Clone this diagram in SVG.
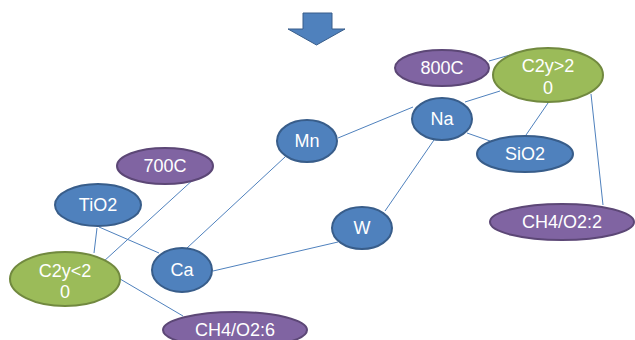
<svg xmlns="http://www.w3.org/2000/svg" width="635" height="340" viewBox="0 0 635 340">
<style>
.b{fill:#4F81BD;stroke:#385D8A;stroke-width:2}
.p{fill:#8064A2;stroke:#5C4776;stroke-width:2}
.g{fill:#9BBB59;stroke:#71893F;stroke-width:2}
.t{fill:#fff;font-family:"Liberation Sans",Arial,sans-serif;font-size:18px;text-anchor:middle}
.c line{stroke:#4F81BD;stroke-width:1}
</style>
<rect width="635" height="340" fill="#fff"/>
<g id="arrow"><path d="M303,13 H332 V29 H345 L316.5,45 L288,29 H303 Z" fill="#4F81BD" stroke="#385D8A" stroke-width="1"/></g>
<g class="c" id="connectors">
<line x1="489" y1="61" x2="510" y2="55"/>
<line x1="338" y1="138" x2="413" y2="107"/>
<line x1="465" y1="102" x2="500" y2="91"/>
<line x1="467" y1="133" x2="490" y2="141"/>
<line x1="548" y1="103" x2="526" y2="135"/>
<line x1="591" y1="94" x2="603" y2="205"/>
<line x1="434" y1="140" x2="385" y2="211"/>
<line x1="213" y1="271" x2="338" y2="242"/>
<line x1="285" y1="157" x2="187" y2="248"/>
<line x1="99" y1="227" x2="159" y2="253"/>
<line x1="97" y1="228" x2="94" y2="253"/>
<line x1="207" y1="167" x2="103" y2="262"/>
<line x1="115" y1="276" x2="183" y2="316"/>
</g>
<g id="n800C"><ellipse class="p" cx="442" cy="68" rx="47" ry="18"/><text class="t" x="442" y="74">800C</text></g>
<g id="nC2yGt"><ellipse class="g" cx="548" cy="75" rx="55" ry="27"/><text class="t" x="548" y="72">C2y&gt;2</text><text class="t" x="548" y="94">0</text></g>
<g id="nNa"><ellipse class="b" cx="442" cy="119" rx="30" ry="21"/><text class="t" x="442" y="125">Na</text></g>
<g id="nMn"><ellipse class="b" cx="307" cy="141" rx="30" ry="21"/><text class="t" x="307" y="147">Mn</text></g>
<g id="nSiO2"><ellipse class="b" cx="525" cy="154" rx="48" ry="18"/><text class="t" x="525" y="160">SiO2</text></g>
<g id="n700C"><ellipse class="p" cx="165" cy="166" rx="48" ry="18"/><text class="t" x="165" y="172">700C</text></g>
<g id="nTiO2"><ellipse class="b" cx="98" cy="205" rx="43" ry="21"/><text class="t" x="98" y="211">TiO2</text></g>
<g id="nC2yLt"><ellipse class="g" cx="65" cy="279" rx="55" ry="27"/><text class="t" x="65" y="277">C2y&lt;2</text><text class="t" x="65" y="298">0</text></g>
<g id="nCa"><ellipse class="b" cx="182" cy="270" rx="30" ry="22"/><text class="t" x="182" y="276">Ca</text></g>
<g id="nW"><ellipse class="b" cx="362" cy="228" rx="30" ry="21"/><text class="t" x="362" y="234">W</text></g>
<g id="nCH4O22"><ellipse class="p" cx="562" cy="222" rx="72" ry="18"/><text class="t" x="562" y="228">CH4/O2:2</text></g>
<g id="nCH4O26"><ellipse class="p" cx="235" cy="330" rx="72" ry="18"/><text class="t" x="235" y="336">CH4/O2:6</text></g>
</svg>
